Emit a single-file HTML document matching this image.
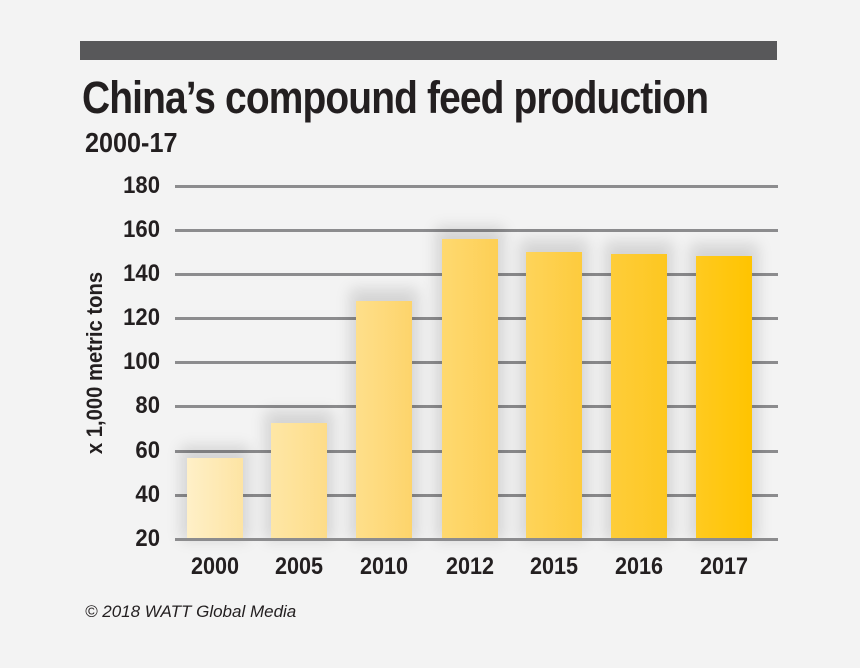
<!DOCTYPE html>
<html><head><style>
body{margin:0;width:860px;height:668px;background:#f3f3f3;overflow:hidden;font-family:"Liberation Sans",sans-serif;position:relative}
.abs{position:absolute}
.bar{position:absolute;width:56px;bottom:128px;box-shadow:0 -6px 14px 6px rgba(0,0,0,0.13)}
.grid{position:absolute;left:175px;width:603px;height:3px;background:#8c8c8e}
.yl{position:absolute;left:110px;width:50px;text-align:right;font-size:24px;font-weight:bold;color:#231f20;transform:scaleX(0.92);transform-origin:right}
.xl{position:absolute;top:553px;width:80px;text-align:center;font-size:24px;font-weight:bold;color:#231f20;transform:scaleX(0.9)}
</style></head><body>
<div class="abs" style="left:80px;top:41px;width:697px;height:19px;background:#58585a"></div>
<div class="abs" style="left:82px;top:72px;font-size:45px;font-weight:bold;color:#231f20;letter-spacing:-1px;transform:scaleX(0.865);transform-origin:left;white-space:nowrap">China’s compound feed production</div>
<div class="abs" style="left:85px;top:127px;font-size:28px;font-weight:bold;color:#231f20;transform:scaleX(0.9);transform-origin:left">2000-17</div>
<div class="abs" style="left:-20px;top:350px;width:230px;text-align:center;font-size:22px;font-weight:bold;color:#231f20;transform:rotate(-90deg) scaleX(0.92)">x 1,000 metric tons</div>
<div class="grid" style="top:185px"></div>
<div class="grid" style="top:229px"></div>
<div class="grid" style="top:273px"></div>
<div class="grid" style="top:317px"></div>
<div class="grid" style="top:361px"></div>
<div class="grid" style="top:405px"></div>
<div class="grid" style="top:450px"></div>
<div class="grid" style="top:494px"></div>
<div class="yl" style="top:172px">180</div>
<div class="yl" style="top:216px">160</div>
<div class="yl" style="top:260px">140</div>
<div class="yl" style="top:304px">120</div>
<div class="yl" style="top:348px">100</div>
<div class="yl" style="top:392px">80</div>
<div class="yl" style="top:437px">60</div>
<div class="yl" style="top:481px">40</div>
<div class="yl" style="top:525px">20</div>
<div class="bar" style="left:187px;height:82px;background:linear-gradient(90deg,#fff0c8,#fde4a3)"></div>
<div class="bar" style="left:271px;height:117px;background:linear-gradient(90deg,#fee7a6,#fddc88)"></div>
<div class="bar" style="left:356px;height:239px;background:linear-gradient(90deg,#fedf8b,#fdd46b)"></div>
<div class="bar" style="left:442px;height:301px;background:linear-gradient(90deg,#fed970,#fdcf55)"></div>
<div class="bar" style="left:526px;height:288px;background:linear-gradient(90deg,#fed45a,#fdcb3d)"></div>
<div class="bar" style="left:611px;height:286px;background:linear-gradient(90deg,#fecd3a,#fdc720)"></div>
<div class="bar" style="left:696px;height:284px;background:linear-gradient(90deg,#ffca20,#ffc400)"></div>
<div class="grid" style="top:538px"></div>
<div class="xl" style="left:175px">2000</div>
<div class="xl" style="left:259px">2005</div>
<div class="xl" style="left:344px">2010</div>
<div class="xl" style="left:430px">2012</div>
<div class="xl" style="left:514px">2015</div>
<div class="xl" style="left:599px">2016</div>
<div class="xl" style="left:684px">2017</div>
<div class="abs" style="left:85px;top:602px;font-size:17px;font-style:italic;color:#231f20">© 2018 WATT Global Media</div>
</body></html>
